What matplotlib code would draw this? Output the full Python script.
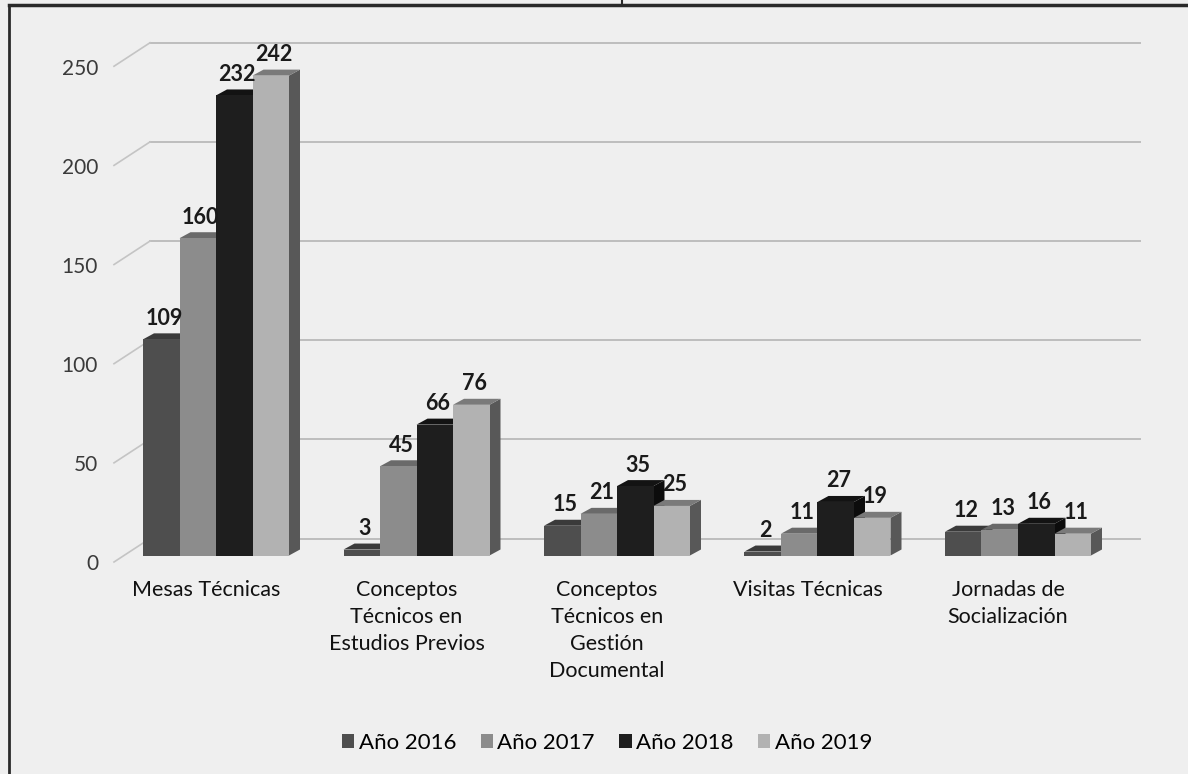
import numpy as np
import matplotlib
matplotlib.use('Agg')
import matplotlib.pyplot as plt
import matplotlib.transforms as mtransforms
from matplotlib.patches import Polygon, Patch

# datos por modalidad y año
categorias = ['Mesas Técnicas',
              'Conceptos\nTécnicos en\nEstudios Previos',
              'Conceptos\nTécnicos en\nGestión\nDocumental',
              'Visitas Técnicas',
              'Jornadas de\nSocialización']
anios = ['Año 2016', 'Año 2017', 'Año 2018', 'Año 2019']
v2016 = [109, 3, 15, 2, 12]
v2017 = [160, 45, 21, 11, 13]
v2018 = [232, 66, 35, 27, 16]
v2019 = [242, 76, 25, 19, 11]
ticks = [0, 50, 100, 150, 200, 250]

series = [v2016, v2017, v2018, v2019]
frente = ['#4e4e4e', '#8c8c8c', '#1e1e1e', '#b2b2b2']
techo = ['#3a3a3a', '#6a6a6a', '#131313', '#7a7a7a']
lado = ['#2c2c2c', '#545454', '#0c0c0c', '#585858']

fuente = ['Lato', 'DejaVu Sans']

W, H = 1188, 774
fig = plt.figure(figsize=(W / 100, H / 100), dpi=100)
fig.patch.set_facecolor('#efefef')

# eje en pixeles: 0 -> y=555.5, 250 -> y=59.75 ; grupo 0 centrado en x=216, paso 200.5
ax = fig.add_axes([100 / W, (H - 555.5) / H, 1040 / W, 495.75 / H])
ax.set_xlim((100 - 216) / 200.5, (1140 - 216) / 200.5)
ax.set_ylim(0, 250)
ax.axis('off')
ax.patch.set_alpha(0)

def off(dx, dy):
    return mtransforms.offset_copy(ax.transData, fig=fig, x=dx, y=dy, units='dots')

t_front = off(0, -6.5)
t_back = off(36, 17)
x_izq = (114 - 216) / 200.5
x_der = (1104 - 216) / 200.5

# pared del fondo: lineas de la grilla y diagonales de las marcas
for t in ticks:
    ax.plot([x_izq, x_der], [t, t], color='#bdbdbd', lw=1.4, transform=t_back,
            clip_on=False, zorder=1)
    p0 = t_front.transform((x_izq, t))
    p1 = t_back.transform((x_izq, t))
    ax.plot([p0[0], p1[0]], [p0[1], p1[1]], color='#c4c4c4', lw=1.2,
            transform=None, clip_on=False, zorder=1)
    ax.text(x_izq, t, str(t), transform=off(-16, -9), ha='right', va='center',
            fontsize=15, color='#3a3a3a', family=fuente)

ancho = 36.5 / 200.5
dx, dy = 11, 6
for i in range(len(categorias)):
    for j, s in enumerate(series):
        x0 = i - 2 * ancho + j * ancho
        x1 = x0 + ancho
        v = s[i]
        a = ax.transData.transform((x0, 0))
        b = ax.transData.transform((x1, v))
        # cara lateral
        ax.add_patch(Polygon([(b[0], a[1]), (b[0] + dx, a[1] + dy),
                              (b[0] + dx, b[1] + dy), (b[0], b[1])],
                             closed=True, transform=None, fc=lado[j], ec='none',
                             zorder=2, clip_on=False))
        # techo
        ax.add_patch(Polygon([(a[0], b[1]), (b[0], b[1]), (b[0] + dx, b[1] + dy),
                              (a[0] + dx, b[1] + dy)],
                             closed=True, transform=None, fc=techo[j], ec='none',
                             zorder=2, clip_on=False))
        # frente
        ax.bar(x0, v, width=ancho, align='edge', color=frente[j], zorder=2,
               clip_on=False)
        ax.text(x0 + ancho / 2, v, str(v), transform=off(3, 21), ha='center',
                va='center', fontsize=15.5, color='#1a1a1a', fontweight='bold',
                family=fuente)

for i, c in enumerate(categorias):
    ax.text(i, 0, c, transform=off(-10, -25), ha='center', va='top',
            fontsize=15.5, color='#111111', linespacing=1.42, family=fuente)

handles = [Patch(facecolor=frente[j], edgecolor='none') for j in range(4)]
fig.legend(handles, anios, loc='center', bbox_to_anchor=(607 / W, (H - 743) / H),
           ncol=4, frameon=False, handlelength=0.55, handleheight=0.55,
           handletextpad=0.2, columnspacing=1.1,
           prop={'family': fuente, 'size': 16})

# marco
fig.add_artist(plt.Line2D([9 / W, 9 / W], [0, (H - 5) / H], color='#2a2a2a', lw=2))
fig.add_artist(plt.Line2D([9 / W, 1], [(H - 5) / H, (H - 5) / H], color='#2a2a2a', lw=2.5))
fig.add_artist(plt.Line2D([622 / W, 622 / W], [(H - 5) / H, 1], color='#2a2a2a', lw=1.5))

fig.savefig('out.png', dpi=100, facecolor=fig.get_facecolor())
